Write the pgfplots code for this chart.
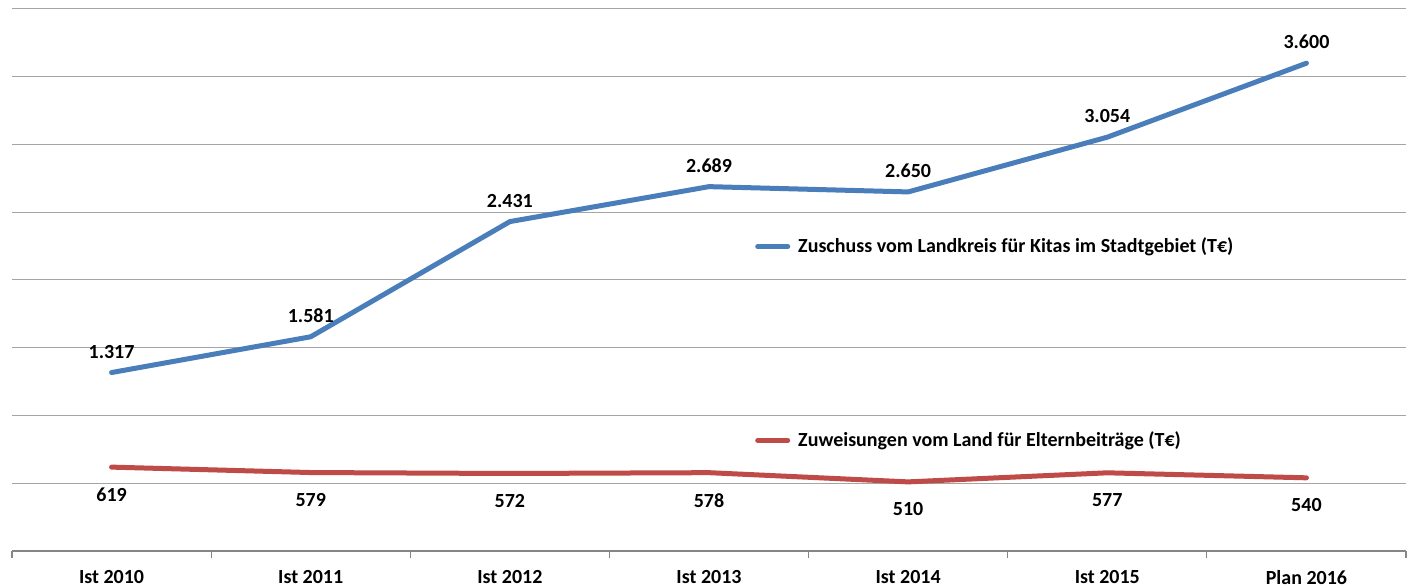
\documentclass[border=0pt]{standalone}
\usepackage{pgfplots}
\pgfplotsset{compat=1.18}
\usepackage{fontspec}
\setmainfont{Carlito}
\definecolor{myblue}{RGB}{74,126,187}
\definecolor{myred}{RGB}{190,75,72}
\definecolor{axgray}{RGB}{134,134,134}
\definecolor{gridgray}{RGB}{165,165,165}
\begin{document}
\begin{tikzpicture}
\path[use as bounding box] (-6pt,-18pt) rectangle (699.5pt,275.5pt);
\begin{axis}[
  scale only axis, width=697pt, height=271pt,
  xmin=-0.5, xmax=6.5, ymin=0, ymax=4000,
  separate axis lines,
  axis x line*=bottom,
  x axis line style={draw=axgray, line width=0.6pt, -},
  y axis line style={draw=none},
  xtick={0,...,6},
  xticklabels={Ist 2010,Ist 2011,Ist 2012,Ist 2013,Ist 2014,Ist 2015,Plan 2016},
  major x tick style={draw=none},
  minor xtick={-0.5,0.5,...,6.5},
  minor x tick style={draw=axgray, line width=0.6pt},
  minor tick length=3.5pt,
  xtick align=outside,
  xticklabel style={font=\bfseries, yshift=-2pt},
  ytick={0,500,...,4000}, yticklabels={}, ytick style={draw=none},
  ymajorgrids, major y grid style={draw=gridgray, line width=0.5pt},
  every axis plot/.append style={line width=2.5pt, line cap=round, line join=round},
  legend style={draw=none, fill=none, at={(axis cs:3.23,2345)}, anchor=north west,
    inner sep=0pt, row sep=84pt, font=\bfseries, cells={anchor=west},
    /tikz/every odd column/.append style={column sep=2pt}},
  legend image code/.code={\draw[#1] (0pt,0pt) -- (15pt,0pt);},
  legend cell align=left,
]
\addplot[myblue, nodes near coords={\pgfmathprintnumber[assume math mode=true,1000 sep={.}]{\pgfplotspointmeta}},
  every node near coord/.append style={font=\bfseries, text=black, anchor=south, yshift=2.5pt}]
  coordinates {(0,1317) (1,1581) (2,2431) (3,2689) (4,2650) (5,3054) (6,3600)};
\addlegendentry{Zuschuss vom Landkreis für Kitas im Stadtgebiet (T€)}
\addplot[myred, nodes near coords={\pgfmathprintnumber[assume math mode=true,1000 sep={.}]{\pgfplotspointmeta}},
  every node near coord/.append style={font=\bfseries, text=black, anchor=north, yshift=-5.8pt}]
  coordinates {(0,619) (1,579) (2,572) (3,578) (4,510) (5,577) (6,540)};
\addlegendentry{Zuweisungen vom Land für Elternbeiträge (T€)}
\end{axis}
\end{tikzpicture}
\end{document}
